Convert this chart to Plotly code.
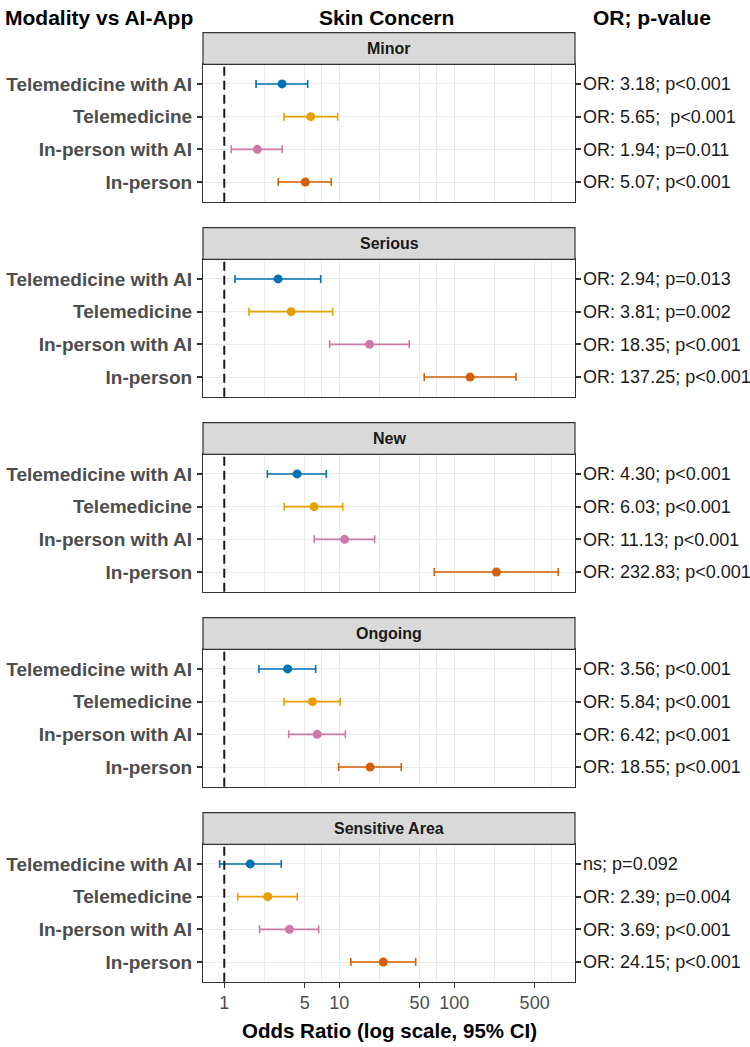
import plotly.graph_objects as go

W, H = 750, 1047

concerns = ["Minor", "Serious", "New", "Ongoing", "Sensitive Area"]
modalities = ["Telemedicine with AI", "Telemedicine", "In-person with AI", "In-person"]
colors = ["#0072B2", "#E69F00", "#CC79A7", "#D55E00"]

# odds ratios and 95% CI per concern, in modality order
or_minor = [3.18, 5.65, 1.94, 5.07]
lo_minor = [1.89, 3.31, 1.15, 2.95]
hi_minor = [5.31, 9.68, 3.19, 8.52]

or_serious = [2.94, 3.81, 18.35, 137.25]
lo_serious = [1.24, 1.64, 8.25, 54.8]
hi_serious = [6.89, 8.76, 40.6, 344.0]

or_new = [4.30, 6.03, 11.13, 232.83]
lo_new = [2.37, 3.32, 6.06, 67.0]
hi_new = [7.71, 10.7, 20.3, 802.0]

or_ongoing = [3.56, 5.84, 6.42, 18.55]
lo_ongoing = [2.00, 3.31, 3.63, 9.88]
hi_ongoing = [6.23, 10.2, 11.3, 34.6]

or_sensitive = [1.68, 2.39, 3.69, 24.15]
lo_sensitive = [0.912, 1.31, 2.03, 12.6]
hi_sensitive = [3.13, 4.31, 6.62, 46.2]

lab_minor = ["OR: 3.18; p<0.001", "OR: 5.65;\u00a0 p<0.001", "OR: 1.94; p=0.011", "OR: 5.07; p<0.001"]
lab_serious = ["OR: 2.94; p=0.013", "OR: 3.81; p=0.002", "OR: 18.35; p<0.001", "OR: 137.25; p<0.001"]
lab_new = ["OR: 4.30; p<0.001", "OR: 6.03; p<0.001", "OR: 11.13; p<0.001", "OR: 232.83; p<0.001"]
lab_ongoing = ["OR: 3.56; p<0.001", "OR: 5.84; p<0.001", "OR: 6.42; p<0.001", "OR: 18.55; p<0.001"]
lab_sensitive = ["ns; p=0.092", "OR: 2.39; p=0.004", "OR: 3.69; p<0.001", "OR: 24.15; p<0.001"]

x_ticks = [1, 5, 10, 50, 100, 500]
x_tick_text = ["1", "5", "10", "50", "100", "500"]
x_minor = [2.236, 7.071, 22.36, 70.71, 223.6, 707.1, 1117.0]

panels = [
    (or_minor, lo_minor, hi_minor, lab_minor),
    (or_serious, lo_serious, hi_serious, lab_serious),
    (or_new, lo_new, hi_new, lab_new),
    (or_ongoing, lo_ongoing, hi_ongoing, lab_ongoing),
    (or_sensitive, lo_sensitive, hi_sensitive, lab_sensitive),
]

# layout geometry (pixels)
PX_L, PX_R = 203, 575
STRIP_TOP0, STRIP_BOT0, BODY_BOT0, STEP = 32.7, 64.3, 201.7, 195
FONT = "Liberation Sans, Arial, sans-serif"

def py(px):
    return 1 - px / H

def pxx(px):
    return px / W

cat_order = list(reversed(modalities))

fig = go.Figure()
layout = dict(
    width=W, height=H, margin=dict(l=0, r=0, t=0, b=0),
    paper_bgcolor="white", plot_bgcolor="white", showlegend=False,
    font=dict(family=FONT), shapes=[], annotations=[],
)

for i, (ors, los, his, labs) in enumerate(panels):
    n = i + 1
    xa = "x" if n == 1 else f"x{n}"
    ya = "y" if n == 1 else f"y{n}"
    yr = f"y{n + 5}"
    strip_top = STRIP_TOP0 + STEP * i
    strip_bot = STRIP_BOT0 + STEP * i
    body_bot = BODY_BOT0 + STEP * i

    for j, m in enumerate(modalities):
        fig.add_trace(go.Scatter(
            x=[ors[j]], y=[m], xaxis=xa, yaxis=ya, mode="markers",
            marker=dict(color=colors[j], size=9),
            error_x=dict(type="data", symmetric=False,
                         array=[his[j] - ors[j]], arrayminus=[ors[j] - los[j]],
                         color=colors[j], thickness=1.6, width=4),
            hoverinfo="skip",
        ))
    # invisible trace for right-hand label axis
    fig.add_trace(go.Scatter(x=[1] * 4, y=modalities, xaxis=xa, yaxis=yr, mode="markers",
                             marker=dict(opacity=0), hoverinfo="skip"))

    last = (n == 5)
    layout[f"xaxis{'' if n == 1 else n}"] = dict(
        type="log", range=[-0.185, 3.05], domain=[pxx(PX_L), pxx(PX_R)], anchor=ya,
        tickmode="array", tickvals=x_ticks, ticktext=x_tick_text,
        showticklabels=last, ticks="outside" if last else "", ticklen=5, tickwidth=1.2, tickcolor="#333333",
        tickfont=dict(size=18, color="#4D4D4D", family=FONT),
        showgrid=True, gridcolor="#EBEBEB", gridwidth=1.2,
        minor=dict(tickmode="array", tickvals=x_minor, showgrid=True, gridcolor="#EBEBEB", gridwidth=1, ticks=""),
        showline=True, linecolor="#333333", linewidth=1.2, mirror=True, zeroline=False,
    )
    layout[f"yaxis{'' if n == 1 else n}"] = dict(
        type="category", categoryorder="array", categoryarray=cat_order, range=[-0.6, 3.6],
        domain=[py(body_bot), py(strip_bot)], anchor=xa,
        ticks="outside", ticklen=5, tickwidth=1.5, tickcolor="#333333",
        tickfont=dict(size=19, color="#4D4D4D", family=FONT, weight="bold"),
        showgrid=True, gridcolor="#EBEBEB", gridwidth=1.4,
        showline=True, linecolor="#333333", linewidth=1.2, mirror=True, zeroline=False,
        ticklabelstandoff=1,
    )
    layout[f"yaxis{n + 5}"] = dict(
        type="category", categoryorder="array", categoryarray=cat_order, range=[-0.6, 3.6],
        overlaying=ya, anchor=xa, side="right",
        tickmode="array", tickvals=modalities, ticktext=labs,
        ticks="outside", ticklen=4.5, tickwidth=1.5, tickcolor="#333333",
        tickfont=dict(size=18, color="#1A1A1A", family=FONT),
        showgrid=False, showline=False, zeroline=False, ticklabelstandoff=-1,
    )
    # reference line at OR = 1
    layout["shapes"].append(dict(
        type="line", xref=xa, yref=f"{ya} domain", x0=1, x1=1, y0=0, y1=1,
        line=dict(color="#1A1A1A", width=2, dash="9px,5px"), layer="above",
    ))
    # strip header
    layout["shapes"].append(dict(
        type="rect", xref="paper", yref="paper",
        x0=pxx(PX_L), x1=pxx(PX_R), y0=py(strip_bot), y1=py(strip_top),
        fillcolor="#D9D9D9", line=dict(color="#333333", width=1.2),
    ))
    layout["annotations"].append(dict(
        text=f"<b>{concerns[i]}</b>", xref="paper", yref="paper",
        x=pxx((PX_L + PX_R) / 2), y=py((strip_top + strip_bot) / 2),
        xanchor="center", yanchor="middle", showarrow=False,
        font=dict(size=16, color="#1A1A1A", family=FONT),
    ))

# column headers and axis title
for txt, xc, anchor in [("Modality vs AI-App", 3, "left"),
                        ("Skin Concern", 386, "center"),
                        ("OR; p-value", 652, "center")]:
    layout["annotations"].append(dict(
        text=f"<b>{txt}</b>", xref="paper", yref="paper", x=pxx(xc), y=py(17),
        xanchor=anchor, yanchor="middle", showarrow=False,
        font=dict(size=21, color="#000000", family=FONT),
    ))
layout["annotations"].append(dict(
    text="<b>Odds Ratio (log scale, 95% CI)</b>", xref="paper", yref="paper",
    x=pxx((PX_L + PX_R) / 2), y=py(1030), xanchor="center", yanchor="middle", showarrow=False,
    font=dict(size=20.5, color="#000000", family=FONT),
))

fig.update_layout(**layout)
fig.write_html("out.html")
